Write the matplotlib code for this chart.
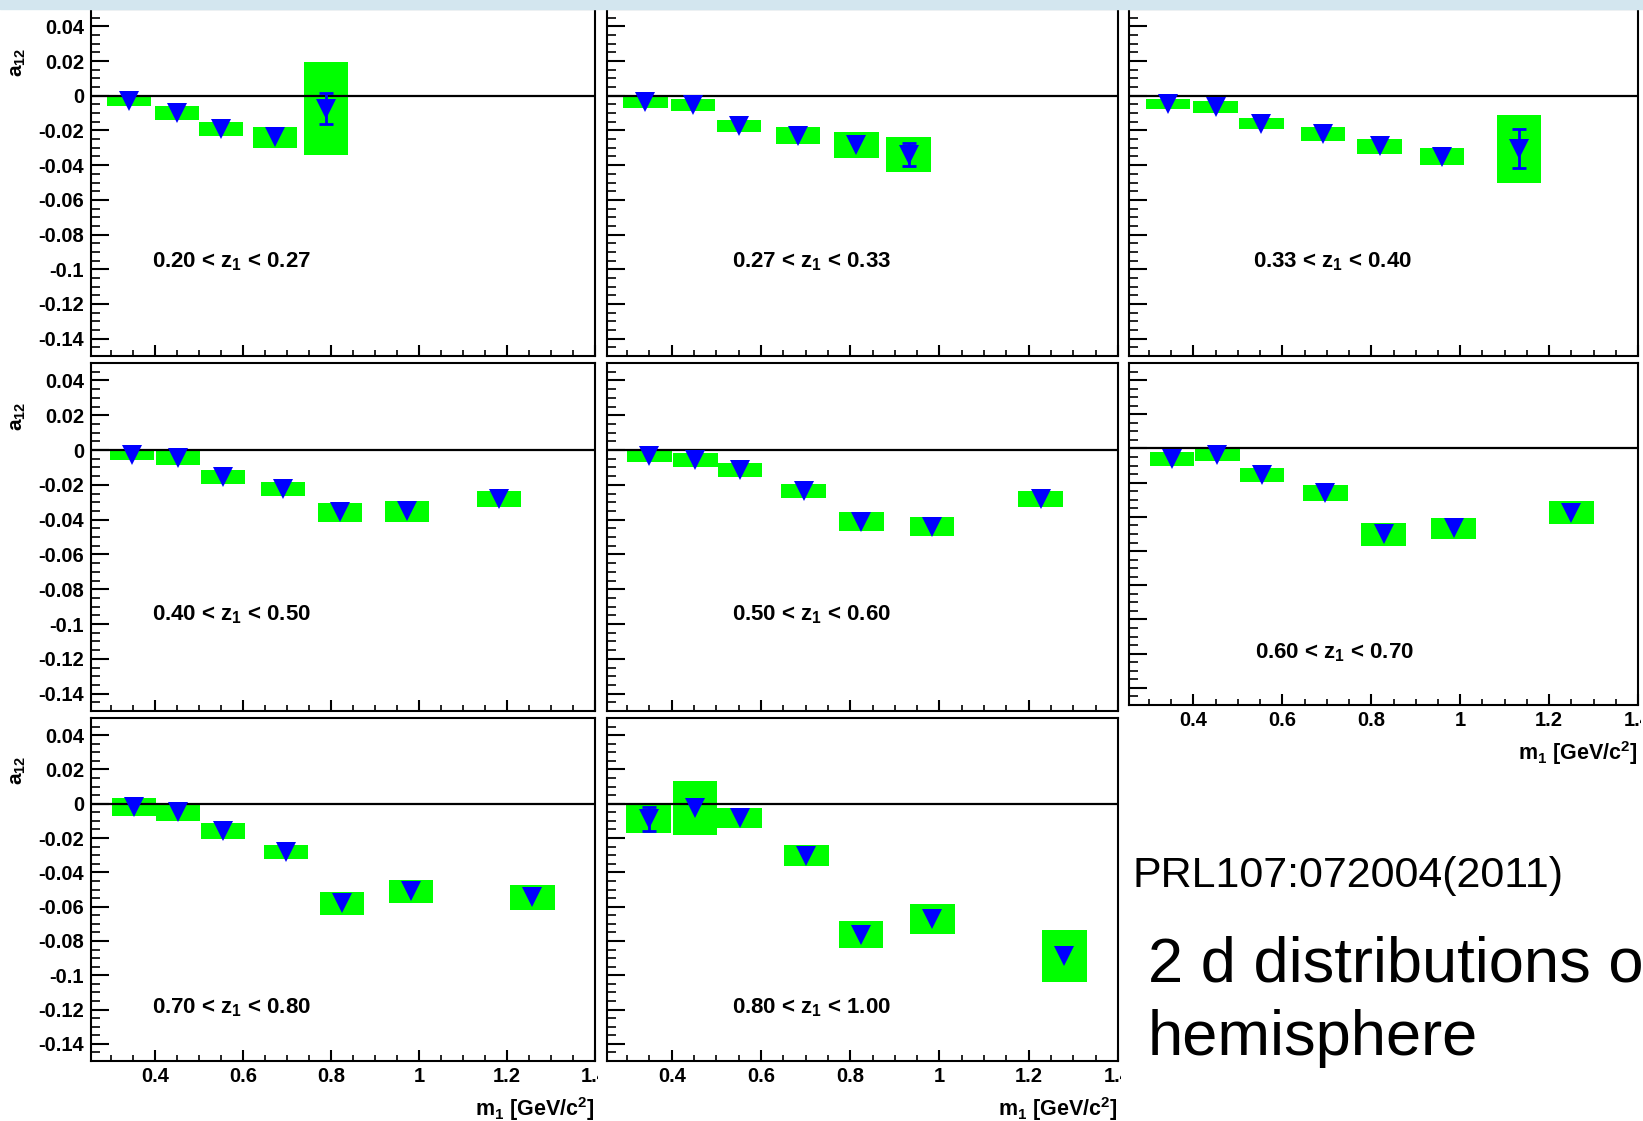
import matplotlib
matplotlib.use('Agg')
import matplotlib.pyplot as plt
from matplotlib.patches import Rectangle
from matplotlib.ticker import MultipleLocator, FuncFormatter

plt.rcParams['font.family'] = ['Liberation Sans', 'DejaVu Sans']
plt.rcParams['font.weight'] = 'bold'
plt.rcParams['axes.labelweight'] = 'bold'
plt.rcParams['mathtext.fontset'] = 'custom'
plt.rcParams['mathtext.rm'] = 'Liberation Sans'
plt.rcParams['mathtext.it'] = 'Liberation Sans'
plt.rcParams['mathtext.bf'] = 'Liberation Sans:bold'

# a12 vs m1 in bins of z1 (value, systematic half-height, statistical error)
z_bins = ['0.20 < z$_1$ < 0.27', '0.27 < z$_1$ < 0.33', '0.33 < z$_1$ < 0.40',
          '0.40 < z$_1$ < 0.50', '0.50 < z$_1$ < 0.60', '0.60 < z$_1$ < 0.70',
          '0.70 < z$_1$ < 0.80', '0.80 < z$_1$ < 1.00']

m_z1 = [0.341, 0.450, 0.550, 0.672, 0.789]
a_z1 = [-0.0032, -0.0100, -0.0194, -0.0240, -0.0074]
sys_z1 = [0.0028, 0.0040, 0.0040, 0.0060, 0.0266]
stat_z1 = [0, 0, 0, 0, 0.0087]

m_z2 = [0.341, 0.448, 0.551, 0.683, 0.814, 0.931]
a_z2 = [-0.0038, -0.0053, -0.0176, -0.0230, -0.0284, -0.0339]
sys_z2 = [0.0034, 0.0033, 0.0034, 0.0048, 0.0074, 0.0101]
stat_z2 = [0, 0, 0, 0, 0, 0.0065]

m_z3 = [0.343, 0.450, 0.553, 0.691, 0.819, 0.959, 1.132]
a_z3 = [-0.0046, -0.0065, -0.0160, -0.0222, -0.0291, -0.0352, -0.0305]
sys_z3 = [0.0028, 0.0033, 0.0033, 0.0041, 0.0042, 0.0048, 0.0196]
stat_z3 = [0, 0, 0, 0, 0, 0, 0.0112]

m_z4 = [0.348, 0.453, 0.555, 0.692, 0.821, 0.973, 1.181]
a_z4 = [-0.0031, -0.0045, -0.0155, -0.0224, -0.0359, -0.0352, -0.0283]
sys_z4 = [0.0027, 0.0041, 0.0040, 0.0042, 0.0053, 0.0060, 0.0046]
stat_z4 = [0, 0, 0, 0, 0, 0, 0]

m_z5 = [0.350, 0.453, 0.553, 0.696, 0.825, 0.983, 1.227]
a_z5 = [-0.0037, -0.0059, -0.0114, -0.0236, -0.0412, -0.0441, -0.0283]
sys_z5 = [0.0033, 0.0040, 0.0039, 0.0041, 0.0055, 0.0055, 0.0046]
stat_z5 = [0, 0, 0, 0, 0, 0, 0]

m_z6 = [0.352, 0.454, 0.554, 0.697, 0.828, 0.985, 1.250]
a_z6 = [-0.0063, -0.0039, -0.0157, -0.0260, -0.0502, -0.0466, -0.0376]
sys_z6 = [0.0040, 0.0035, 0.0041, 0.0048, 0.0068, 0.0061, 0.0068]
stat_z6 = [0, 0, 0, 0, 0, 0, 0]

m_z7 = [0.352, 0.453, 0.555, 0.699, 0.826, 0.981, 1.258]
a_z7 = [-0.0020, -0.0048, -0.0160, -0.0280, -0.0580, -0.0510, -0.0544]
sys_z7 = [0.0053, 0.0052, 0.0048, 0.0042, 0.0067, 0.0066, 0.0073]
stat_z7 = [0, 0, 0, 0, 0, 0, 0]

m_z8 = [0.348, 0.452, 0.552, 0.702, 0.824, 0.984, 1.280]
a_z8 = [-0.0087, -0.0027, -0.0082, -0.0303, -0.0763, -0.0674, -0.0887]
sys_z8 = [0.0083, 0.0157, 0.0060, 0.0060, 0.0080, 0.0088, 0.0150]
stat_z8 = [0.0070, 0, 0, 0, 0, 0, 0]

x_ticks = [0.4, 0.6, 0.8, 1.0, 1.2, 1.4]
x_tick_labels = ['0.4', '0.6', '0.8', '1', '1.2', '1.4']

panels = [(m_z1, a_z1, sys_z1, stat_z1), (m_z2, a_z2, sys_z2, stat_z2),
          (m_z3, a_z3, sys_z3, stat_z3), (m_z4, a_z4, sys_z4, stat_z4),
          (m_z5, a_z5, sys_z5, stat_z5), (m_z6, a_z6, sys_z6, stat_z6),
          (m_z7, a_z7, sys_z7, stat_z7), (m_z8, a_z8, sys_z8, stat_z8)]

W, H = 1643, 1121
fig = plt.figure(figsize=(W / 100, H / 100), dpi=100)
fig.patches.append(Rectangle((0, 1 - 9 / H), 1, 9 / H, transform=fig.transFigure,
                             color='#d3e6ef', zorder=0))

# pad frames in pixels: left, top, right, bottom
boxes = [(91, 9, 595, 356), (607, 9, 1118, 356), (1129, 9, 1638, 356),
         (91, 363, 595, 711), (607, 363, 1118, 711), (1129, 363, 1638, 705),
         (91, 718, 595, 1061), (607, 718, 1118, 1061)]
label_pos = [(0.121, 0.271), (0.245, 0.271), (0.244, 0.271),
             (0.121, 0.276), (0.245, 0.276), (0.248, 0.152),
             (0.121, 0.155), (0.245, 0.155)]


def fmt(v, p):
    s = '%g' % round(v, 4)
    return '0' if s == '-0' else s


for i, (m, a, sys, stat) in enumerate(panels):
    l, t, r, b = boxes[i]
    ax = fig.add_axes([l / W, 1 - b / H, (r - l) / W, (b - t) / H])
    first_col = l < 100
    show_x = i in (5, 6, 7)

    ax.bar(m, [2 * s for s in sys], bottom=[v - s for v, s in zip(a, sys)],
           width=0.1, color='#00ff00', linewidth=0, zorder=2)
    ax.axhline(0, color='black', lw=1.6, zorder=3)
    em = [x for x, s in zip(m, stat) if s > 0]
    ea = [v for v, s in zip(a, stat) if s > 0]
    es = [s for s in stat if s > 0]
    if es:
        ax.errorbar(em, ea, yerr=es, fmt='none', ecolor='#0000ff', elinewidth=2,
                    capsize=5, capthick=2, zorder=4)
    ax.plot(m, a, 'v', color='#0000ff', markersize=15, markeredgewidth=0, zorder=5)

    ax.set_xlim(0.255, 1.40)
    ax.set_ylim(-0.15, 0.05)
    ax.set_xticks(x_ticks)
    ax.set_xticklabels(x_tick_labels)
    ax.xaxis.set_minor_locator(MultipleLocator(0.05))
    ax.yaxis.set_major_locator(MultipleLocator(0.02))
    ax.yaxis.set_minor_locator(MultipleLocator(0.005))
    ax.yaxis.set_major_formatter(FuncFormatter(fmt))

    ax.tick_params(which='both', direction='in', top=False, right=False,
                   labelsize=14.5, colors='black')
    ax.tick_params(axis='y', which='major', length=13, width=1.5, pad=5)
    ax.tick_params(axis='y', which='minor', length=6.5, width=1.2)
    ax.tick_params(axis='x', which='major', length=8, width=1.5, pad=4)
    ax.tick_params(axis='x', which='minor', length=4.5, width=1.2)
    ax.tick_params(axis='y', labelleft=first_col)
    ax.tick_params(axis='x', labelbottom=show_x)
    for sp in ax.spines.values():
        sp.set_linewidth(1.5)

    if first_col:
        ax.set_ylabel(r'a$_{12}$', fontsize=15, loc='top', fontweight='bold')
        ax.yaxis.set_label_coords(-0.125, 0.89)
    if show_x:
        ax.set_xlabel(r'm$_1$ [GeV/c$^2$]', fontsize=15.5, loc='right', fontweight='bold')
        ax.xaxis.set_label_coords(1.0, -0.1)
        clip = Rectangle(((l - 80) / W, 0), (r - l + 83) / W, 1, transform=fig.transFigure)
        for lbl in ax.get_xticklabels():
            lbl.set_clip_path(clip)

    lx, ly = label_pos[i]
    ax.text(lx, ly, z_bins[i], transform=ax.transAxes, fontsize=16,
            fontweight='bold', ha='left', va='center')

fig.text(1132 / W, 1 - 887 / H, 'PRL107:072004(2011)', fontsize=31,
         fontweight='normal', ha='left', va='baseline')
fig.text(1148 / W, 1 - 982 / H, '2 d distributions o', fontsize=45.5,
         fontweight='normal', ha='left', va='baseline')
fig.text(1148 / W, 1 - 1055 / H, 'hemisphere', fontsize=45.5,
         fontweight='normal', ha='left', va='baseline')

fig.savefig('out.png', dpi=100)
